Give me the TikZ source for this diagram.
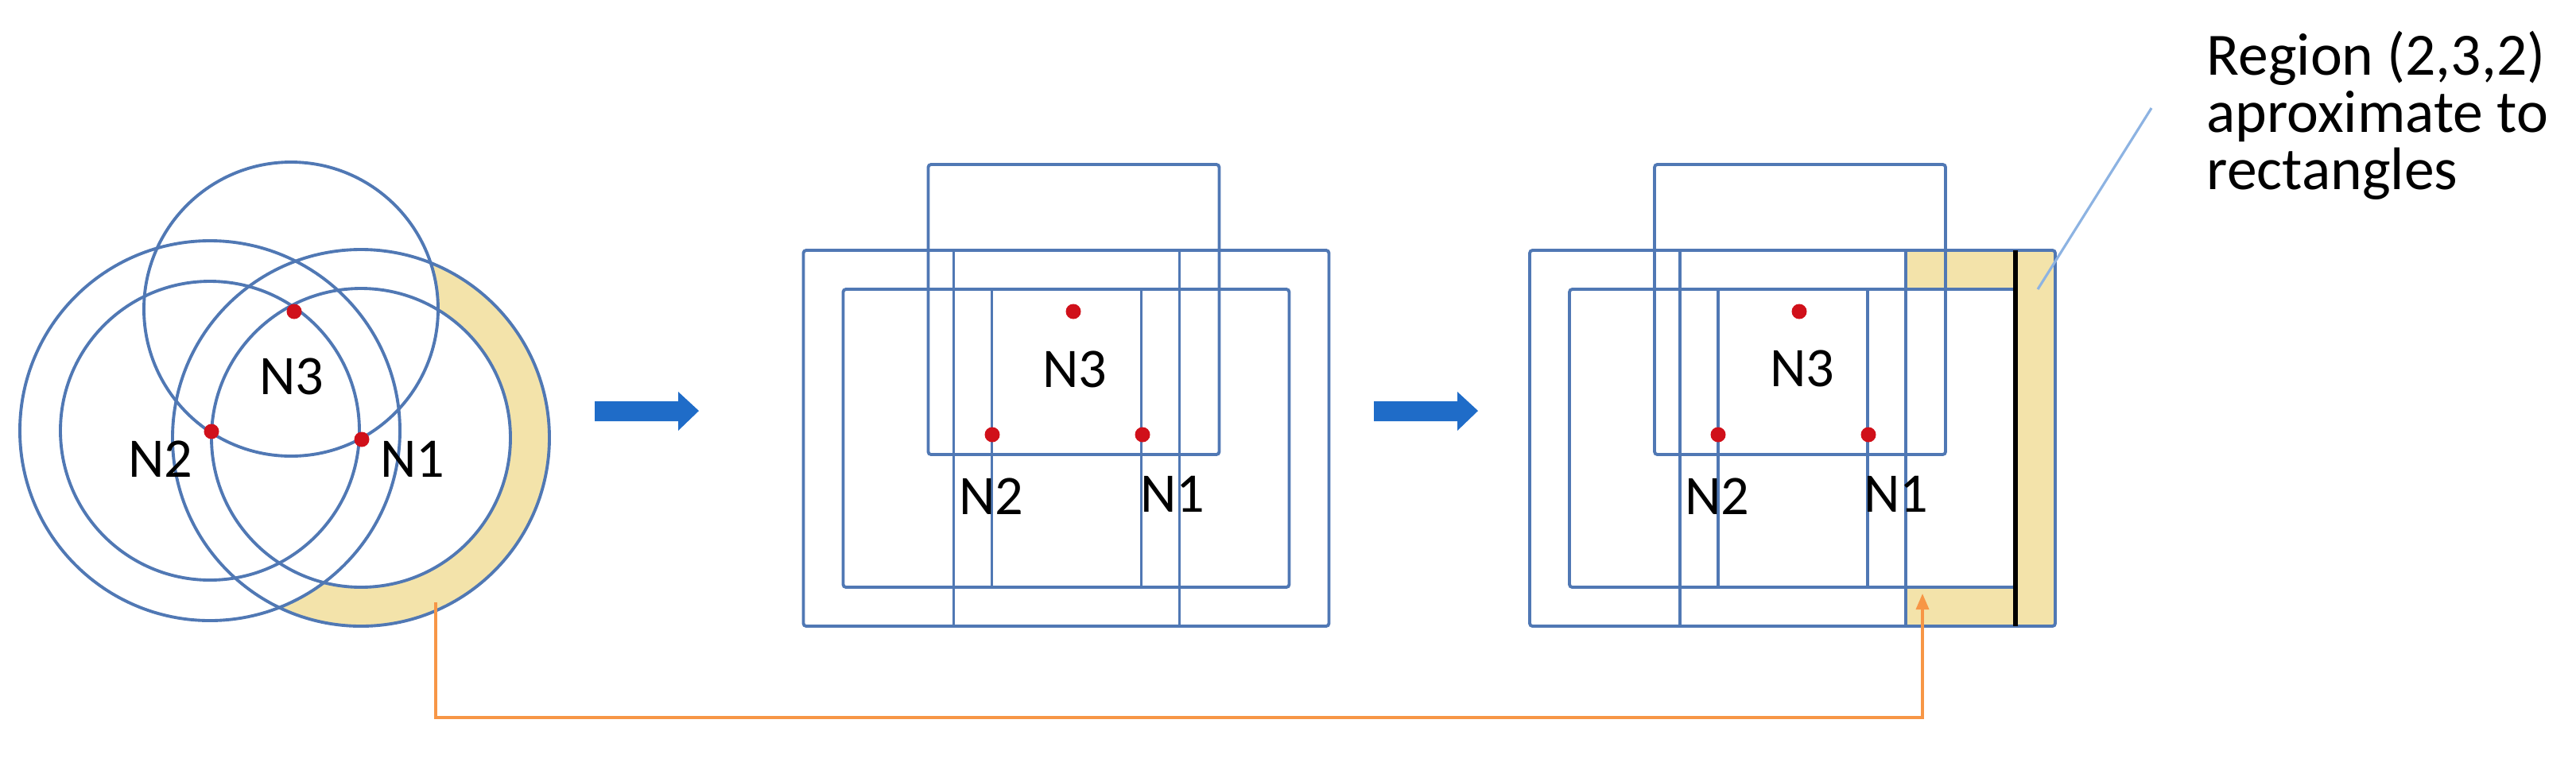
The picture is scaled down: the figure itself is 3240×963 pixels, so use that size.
\documentclass[tikz,border=0pt]{standalone}
\usepackage{fontspec}
\setmainfont{Carlito}
\usetikzlibrary{arrows.meta}
\definecolor{ln}{HTML}{5078B4}
\definecolor{yl}{HTML}{F3E3AA}
\definecolor{dotr}{HTML}{D0101A}
\definecolor{org}{HTML}{F79646}
\definecolor{bar}{HTML}{1F6CC8}
\definecolor{lead}{HTML}{8DB3E2}
\begin{document}
\begin{tikzpicture}[x=0.01cm,y=-0.01cm,
  ring/.style={draw=ln,line width=1.1pt},
  box/.style={draw=ln,line width=1.1pt,rounded corners=1pt},
  dot/.style={circle,fill=dotr,inner sep=0pt,minimum size=0.19cm},
  lab/.style={font=\fontsize{20}{22}\selectfont,inner sep=0pt},
  big/.style={fill=bar}]
\useasboundingbox (0,0) rectangle (3240,963);
% ---------- panel 1 ----------
\coordinate (c1) at (454,551);
\coordinate (c2) at (264,542);
\coordinate (c3) at (366,389);
\fill[yl,even odd rule] (c1) circle[radius=237] (c1) circle[radius=188];
\begin{scope}
  \clip (c1) circle[radius=240];
  \fill[white] (c3) circle[radius=185];
  \fill[white] (c2) circle[radius=239];
\end{scope}
\draw[ring] (c3) circle[radius=185];
\draw[ring] (c2) circle[radius=188];
\draw[ring] (c2) circle[radius=239];
\draw[ring] (c1) circle[radius=188];
\draw[ring] (c1) circle[radius=237];
\node[dot] (a3) at (370,392) {};
\node[dot] (a2) at (266,543) {};
\node[dot] (a1) at (455,553) {};
\node[lab] (la3) at (367,474) {N3};
\node[lab] (la2) at (202,578) {N2};
\node[lab] (la1) at (519,578) {N1};
% block arrows
\foreach \dx in {0,980}{
  \fill[big,xshift=\dx*0.01cm] (748,505) -- (853,505) -- (853,493) -- (879,517)
     -- (853,542) -- (853,530) -- (748,530) -- cycle;
}
% ---------- panel 2 ----------
\begin{scope}[xshift=-9.13cm]
\draw[box] (1924,315) rectangle (2585,788);
\draw[box] (1974,364) rectangle (2535,739);
\draw[box] (2081,207) rectangle (2447,572);
\draw[ring] (2113,315) -- (2113,788) (2397,315) -- (2397,788)
            (2161,364) -- (2161,739) (2349,364) -- (2349,739);
\end{scope}
\node[dot] (b3) at (1350,392) {};
\node[dot] (b2) at (1248,547) {};
\node[dot] (b1) at (1437,547) {};
\node[lab] (lb3) at (1352,465) {N3};
\node[lab] (lb2) at (1247,625) {N2};
\node[lab] (lb1) at (1475,622) {N1};
% ---------- panel 3 ----------
\fill[yl] (2397,315) rectangle (2585,364);
\fill[yl] (2535,315) rectangle (2585,788);
\fill[yl] (2397,739) rectangle (2585,788);
\draw[box] (1924,315) rectangle (2585,788);
\draw[box] (1974,364) rectangle (2535,739);
\draw[box] (2081,207) rectangle (2447,572);
\draw[ring] (2113,315) -- (2113,788) (2397,315) -- (2397,788)
            (2161,364) -- (2161,739) (2349,364) -- (2349,739);
\draw[black,line width=1.6pt] (2535,315) -- (2535,788);
\node[dot] (d3) at (2263,392) {};
\node[dot] (d2) at (2161,547) {};
\node[dot] (d1) at (2350,547) {};
\node[lab] (ld3) at (2267,464) {N3};
\node[lab] (ld2) at (2160,625) {N2};
\node[lab] (ld1) at (2385,622) {N1};
% callout
\coordinate (p0) at (2563,364);
\coordinate (p1) at (2706,136);
\draw[lead,line width=0.9pt] (p0) -- (p1);
\node[font=\fontsize{21.5}{20.5}\selectfont,align=left,anchor=north west,inner sep=0pt] (txt) at (2775,38)
  {Region (2,3,2)\\aproximate to\\rectangles};
% orange connector
\coordinate (o0) at (548,758);
\coordinate (o1) at (2418,747);
\draw[org,line width=1pt,-{Triangle[length=0.2cm,width=0.16cm]}] (o0) |- (1300,903) -| (o1);
\end{tikzpicture}
\end{document}
